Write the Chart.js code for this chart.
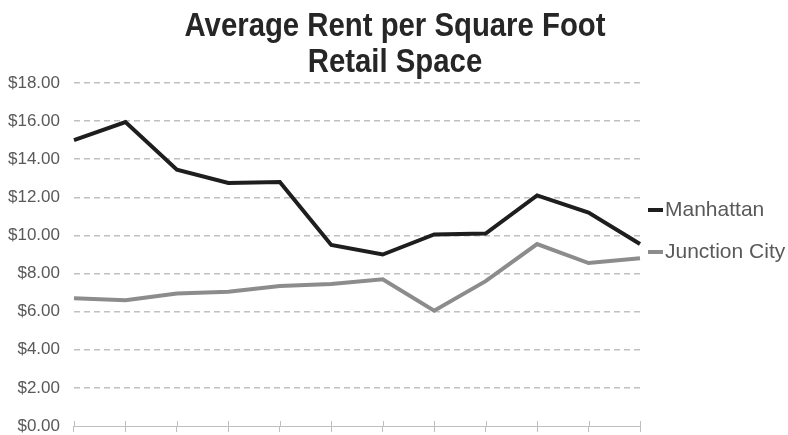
<!DOCTYPE html>
<html>
<head>
<meta charset="utf-8">
<script src="https://cdn.jsdelivr.net/npm/chart.js@4"></script>
<style>
  html, body { margin: 0; padding: 0; background: #fff; overflow: hidden; }
  canvas { display: block; }
</style>
</head>
<body>
<canvas id="rentChart" width="788" height="435"></canvas>
<script>
// periods along the x axis (no labels shown in the original)
const periods = ['1', '2', '3', '4', '5', '6', '7', '8', '9', '10', '11', '12'];

// average rent per square foot, retail space
const manhattan = [15.0, 15.95, 13.45, 12.75, 12.8, 9.5, 9.0, 10.05, 10.1, 12.1, 11.2, 9.55];
const junctionCity = [6.7, 6.6, 6.95, 7.05, 7.35, 7.45, 7.7, 6.05, 7.6, 9.55, 8.55, 8.8];

const yTicks = [0, 2, 4, 6, 8, 10, 12, 14, 16, 18];

const titleLines = ['Average Rent per Square Foot', 'Retail Space'];

const labelGray = '#595959';

// Title: bold, slightly condensed like the original
const narrowTitle = {
    id: 'narrowTitle',
    afterDraw(chart) {
        const ctx = chart.ctx;
        ctx.save();
        ctx.font = 'bold 33px "Liberation Sans", Arial, sans-serif';
        ctx.fillStyle = '#262626';
        ctx.textAlign = 'center';
        ctx.textBaseline = 'alphabetic';
        const squeeze = 421 / ctx.measureText(titleLines[0]).width;
        const cx = 395;
        ctx.translate(cx, 0);
        ctx.scale(squeeze, 1);
        titleLines.forEach(function(line, i) {
            ctx.fillText(line, 0, 36 + i * 36);
        });
        ctx.restore();
    }
};

// Legend drawn beside the plot, line swatch right next to the text
const sideLegend = {
    id: 'sideLegend',
    afterDraw(chart) {
        const ctx = chart.ctx;
        const area = chart.chartArea;
        const startY = 210;
        const gap = 42;
        ctx.save();
        ctx.font = '21px "Liberation Sans", Arial, sans-serif';
        ctx.textBaseline = 'middle';
        chart.data.datasets.forEach(function(ds, i) {
            const y = startY + i * gap;
            const x = area.right + 8;
            ctx.strokeStyle = ds.borderColor;
            ctx.lineWidth = 4;
            ctx.beginPath();
            ctx.moveTo(x, y);
            ctx.lineTo(x + 15, y);
            ctx.stroke();
            ctx.fillStyle = labelGray;
            ctx.fillText(ds.label, x + 17, y);
        });
        ctx.restore();
    }
};

// tick marks on the x axis also poke a little above the line
const crossTicks = {
    id: 'crossTicks',
    afterDatasetsDraw(chart) {
        const ctx = chart.ctx;
        const xs = chart.scales.x;
        const bottom = chart.chartArea.bottom;
        ctx.save();
        ctx.strokeStyle = '#bfbfbf';
        ctx.lineWidth = 1;
        xs.ticks.forEach(function(t, i) {
            const px = Math.round(xs.getPixelForTick(i)) + 0.5;
            ctx.beginPath();
            ctx.moveTo(px, bottom - 5);
            ctx.lineTo(px, bottom);
            ctx.stroke();
        });
        ctx.restore();
    }
};

const ctx = document.getElementById('rentChart').getContext('2d');
new Chart(ctx, {
    type: 'line',
    data: {
        labels: periods,
        datasets: [
            {
                label: 'Manhattan',
                data: manhattan,
                borderColor: '#1e1e1e',
                borderWidth: 4,
                pointRadius: 0,
                tension: 0
            },
            {
                label: 'Junction City',
                data: junctionCity,
                borderColor: '#8c8c8c',
                borderWidth: 4,
                pointRadius: 0,
                tension: 0
            }
        ]
    },
    options: {
        responsive: false,
        animation: false,
        devicePixelRatio: 1,
        layout: {
            autoPadding: false,
            padding: { left: -6, right: 148, top: 83, bottom: 3 }
        },
        scales: {
            x: {
                offset: false,
                border: { color: '#bfbfbf', width: 1 },
                grid: {
                    drawOnChartArea: false,
                    color: '#bfbfbf',
                    tickLength: 6
                },
                ticks: { display: false },
                afterFit: function(axis) {
                    axis.height = 6;
                }
            },
            y: {
                min: 0,
                max: 18,
                afterBuildTicks: function(axis) {
                    axis.ticks = yTicks.map(v => ({ value: v }));
                },
                afterFit: function(axis) {
                    // labels may hang over the ends; don't shrink the plot for them
                    axis.paddingTop = 0;
                    axis.paddingBottom = 0;
                },
                grid: {
                    color: function(c) {
                        return c.tick && c.tick.value === 0 ? 'rgba(0,0,0,0)' : '#c0c0c0';
                    },
                    lineWidth: 1.5,
                    drawTicks: false
                },
                border: { display: false, dash: [6, 4] },
                ticks: {
                    color: labelGray,
                    padding: 14,
                    font: { family: '"Liberation Sans", Arial, sans-serif', size: 17 },
                    callback: function(value) {
                        return '$' + Number(value).toFixed(2);
                    }
                }
            }
        },
        plugins: {
            legend: { display: false },
            tooltip: { enabled: false },
            title: { display: false }
        }
    },
    plugins: [narrowTitle, sideLegend, crossTicks]
});
</script>
</body>
</html>
